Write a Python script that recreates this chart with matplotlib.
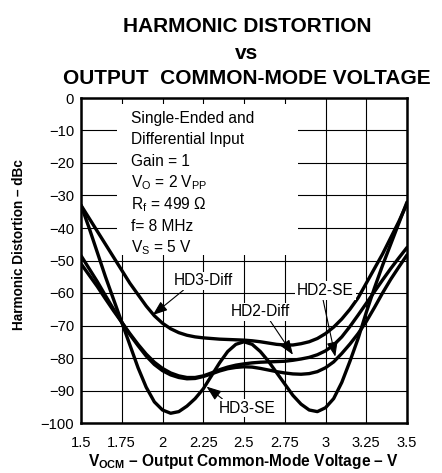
import matplotlib
matplotlib.use("Agg")
import matplotlib.pyplot as plt
from matplotlib.patches import Rectangle

plt.rcParams["font.family"] = ["Liberation Sans", "DejaVu Sans"]
plt.rcParams["mathtext.fontset"] = "custom"
plt.rcParams["mathtext.rm"] = "Liberation Sans"
plt.rcParams["mathtext.it"] = "Liberation Sans:italic"
plt.rcParams["mathtext.bf"] = "Liberation Sans:bold"

# Output common-mode voltage (V)
vocm = [1.50, 1.55, 1.60, 1.65, 1.70, 1.75, 1.80, 1.85, 1.90, 1.95,
        2.00, 2.05, 2.10, 2.15, 2.20, 2.25, 2.30, 2.35, 2.40, 2.45,
        2.50, 2.55, 2.60, 2.65, 2.70, 2.75, 2.80, 2.85, 2.90, 2.95,
        3.00, 3.05, 3.10, 3.15, 3.20, 3.25, 3.30, 3.35, 3.40, 3.45, 3.50]

# Harmonic distortion (dBc)
hd3_diff = [-33, -37, -41, -45, -49, -53, -57, -60.5, -64, -67,
            -69.3, -71, -72.2, -73, -73.5, -73.8, -74, -74.2, -74.3, -74.4,
            -74.5, -74.7, -75, -75.4, -75.8, -76, -76, -75.6, -75, -74,
            -72.5, -70.5, -68, -65, -61.5, -57, -52.5, -48, -43, -38, -32.5]
hd3_se = [-33, -40, -47.5, -55, -62, -69, -76, -83, -89, -93.5,
          -96, -97, -96.5, -94.8, -92.5, -89.5, -85.5, -81.5, -78, -75.8,
          -75, -75.8, -78, -81, -84.5, -88, -91.5, -94.2, -96, -96.5,
          -95.3, -92.5, -87.5, -81, -74, -66, -58.5, -51.5, -45, -38.5, -32]
hd2_diff = [-51, -54.5, -58, -61.8, -65.5, -69, -72.5, -75.8, -78.8, -81.3,
            -83.2, -84.6, -85.5, -86, -86, -85.5, -84.6, -83.6, -82.8, -82.2,
            -81.8, -81.5, -81.3, -81.2, -81.1, -81, -80.7, -80.3, -79.8, -79,
            -77.8, -76, -73.5, -70.3, -66.8, -63.2, -59.6, -56, -52.5, -49.2, -46]
hd2_se = [-48.5, -52.5, -56.5, -60.8, -65, -69, -72.8, -76.2, -79.4, -82,
          -83.9, -85.2, -86, -86.4, -86.3, -85.7, -84.9, -84, -83.3, -82.9,
          -82.7, -82.8, -83.2, -83.7, -84.2, -84.6, -84.9, -85, -84.8, -84.2,
          -83, -81.2, -78.6, -75.7, -72.5, -68.8, -64.5, -60, -55.8, -52, -48.3]

x_ticks = [1.5, 1.75, 2.0, 2.25, 2.5, 2.75, 3.0, 3.25, 3.5]
x_tick_labels = ["1.5", "1.75", "2", "2.25", "2.5", "2.75", "3", "3.25", "3.5"]
y_ticks = [0, -10, -20, -30, -40, -50, -60, -70, -80, -90, -100]
y_tick_labels = ["0", "\u221210", "\u221220", "\u221230", "\u221240", "\u221250",
                 "\u221260", "\u221270", "\u221280", "\u221290", "\u2212100"]

conditions = ["Single-Ended and", "Differential Input", "Gain = 1",
              r"V$_\mathrm{O}$ = 2 V$_\mathrm{PP}$", r"R$_\mathrm{f}$ = 499 $\Omega$",
              "f= 8 MHz", r"V$_\mathrm{S}$ = 5 V"]

TXT = 11.2

fig = plt.figure(figsize=(4.42, 4.73), dpi=100)
ax = fig.add_axes([81 / 442, 50 / 473, 326 / 442, 325 / 473])
ax.set_xlim(1.5, 3.5)
ax.set_ylim(-100, 0)

ax.set_xticks(x_ticks)
ax.set_xticklabels(x_tick_labels, fontsize=10.6)
ax.set_yticks(y_ticks)
ax.set_yticklabels(y_tick_labels, fontsize=10.6)
ax.tick_params(axis="x", length=0, pad=9)
ax.tick_params(axis="y", length=0, pad=5)
ax.grid(True, color="black", linewidth=0.8)
ax.set_axisbelow(True)
for sp in ax.spines.values():
    sp.set_linewidth(1.8)

# White panel holding the test conditions
ax.add_patch(Rectangle((1.72, -48.3), 1.11, 46.3, facecolor="white",
                       edgecolor="none", zorder=1.5))
for i, line in enumerate(conditions):
    ax.text(1.805, -6.2 - i * 6.65, line, fontsize=TXT, va="center",
            ha="left", zorder=3)

for series in (hd3_diff, hd3_se, hd2_diff, hd2_se):
    ax.plot(vocm, series, color="black", linewidth=2.4,
            solid_capstyle="round", solid_joinstyle="round", zorder=2)

arrow = dict(arrowstyle="-|>,head_length=0.8,head_width=0.3", color="black",
             linewidth=0.8, shrinkA=0, shrinkB=0)
box = dict(facecolor="white", edgecolor="none", pad=1.2)
ax.annotate("HD3-Diff", xy=(1.94, -66.8), xytext=(2.25, -56.3), fontsize=TXT,
            ha="center", va="center", bbox=box, zorder=4,
            arrowprops=dict(arrow, relpos=(0.2, 0.0)))
ax.annotate("HD2-SE", xy=(3.06, -79.6), xytext=(3.0, -59.2), fontsize=TXT,
            ha="center", va="center", bbox=box, zorder=4,
            arrowprops=dict(arrow, relpos=(0.45, 0.0)))
ax.annotate("HD2-Diff", xy=(2.8, -79.0), xytext=(2.6, -65.8), fontsize=TXT,
            ha="center", va="center", bbox=box, zorder=4,
            arrowprops=dict(arrow, relpos=(0.65, 0.0)))
ax.annotate("HD3-SE", xy=(2.27, -88.8), xytext=(2.52, -95.4), fontsize=TXT,
            ha="center", va="center", bbox=box, zorder=4,
            arrowprops=dict(arrow, relpos=(0.1, 1.0)))

ax.set_xlabel("V$_\\mathbf{OCM}$ \u2013 Output Common-Mode Voltage \u2013 V",
              fontsize=11.2, fontweight="bold")
ax.xaxis.set_label_coords(0.5, -0.088)
ax.set_ylabel("Harmonic Distortion \u2013 dBc", fontsize=9.8,
              fontweight="bold")
ax.yaxis.set_label_coords(-0.168, 0.549)

title_lines = ["HARMONIC DISTORTION", "vs", "OUTPUT  COMMON-MODE VOLTAGE"]
for txt, ypix in zip(title_lines, (26, 53, 78)):
    fig.text(247 / 442, 1 - ypix / 473, txt, fontsize=15, fontweight="bold",
             ha="center", va="center")

fig.savefig("out.png", dpi=100)
